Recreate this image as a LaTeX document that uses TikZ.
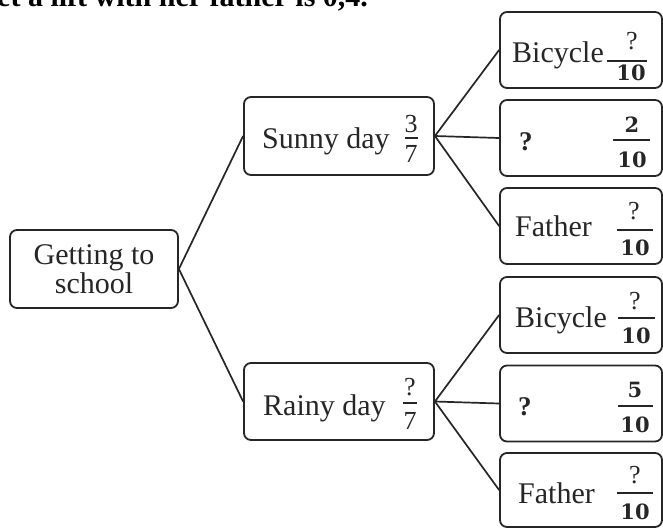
\documentclass[tikz,border=0pt]{standalone}
\usepackage{fontspec}
\setmainfont{Liberation Serif}
\newfontfamily\numfont{DejaVu Serif}
\begin{document}
\begin{tikzpicture}[x=1pt,y=-1pt,
  box/.style={draw=black!85, line width=1.8pt, rounded corners=7pt, inner sep=0pt},
  conn/.style={draw=black!85, line width=1.7pt},
  word/.style={inner sep=0pt, anchor=base west, text=black!85, font=\fontsize{30}{30}\selectfont},
  qmark/.style={inner sep=0pt, anchor=base west, text=black!85, font=\fontsize{27}{27}\selectfont\bfseries},
  fnum/.style={inner sep=0pt, text=black!85, font=\fontsize{26}{26}\selectfont},
  bnum/.style={inner sep=0pt, text=black!85, font=\fontsize{21}{21}\selectfont\numfont\bfseries},
  fbar/.style={draw=black!85, line width=2pt},
  intro/.style={inner sep=0pt, anchor=base west, text=black, font=\fontsize{30}{30}\selectfont\bfseries}]
\useasboundingbox (0,0) rectangle (663,528);
\fill[white] (0,0) rectangle (663,528);

% cropped line of text at the top
\node[intro] (introtext) at (-3,6) {et a lift with her father is 0,4.};

% boxes
\node[box, minimum width=168pt, minimum height=78pt, align=center,
      text=black!85, font=\fontsize{30}{29}\selectfont] (start) at (94,269) {Getting to\\school};
\node[box, minimum width=190pt, minimum height=78pt] (sunny) at (339,136) {};
\node[box, minimum width=190pt, minimum height=77pt] (rainy) at (339,401.5) {};
\node[box, minimum width=162pt, minimum height=76pt] (s1) at (581,50) {};
\node[box, minimum width=162pt, minimum height=76pt] (s2) at (581,138) {};
\node[box, minimum width=162pt, minimum height=76pt] (s3) at (581,226) {};
\node[box, minimum width=162pt, minimum height=76pt] (r1) at (581,315) {};
\node[box, minimum width=162pt, minimum height=76pt] (r2) at (581,403.5) {};
\node[box, minimum width=162pt, minimum height=74pt] (r3) at (581,490) {};

% connectors
\draw[conn] (start.east) -- (sunny.west);
\draw[conn] (start.east) -- (rainy.west);
\draw[conn] (sunny.east) -- (s1.west);
\draw[conn] (sunny.east) -- (s2.west);
\draw[conn] (sunny.east) -- (s3.west);
\draw[conn] (rainy.east) -- (r1.west);
\draw[conn] (rainy.east) -- (r2.west);
\draw[conn] (rainy.east) -- (r3.west);

% sunny day
\node[word] (sunnytext) at (262,148) {Sunny day};
\node[fnum] (sunnynum) at (411,124.5) {3};
\draw[fbar] (405,138) -- (418,138);
\node[fnum] (sunnyden) at (411,153.5) {7};

% rainy day
\node[word] (rainytext) at (263,415) {Rainy day};
\node[fnum] (rainynum) at (410,387.5) {?};
\draw[fbar] (403,403) -- (417,403);
\node[fnum] (rainyden) at (410,421) {7};

% sunny outcomes
\node[word] (s1text) at (512,62) {Bicycle};
\node[fnum] (s1num) at (632,41) {?};
\draw[fbar] (607,61) -- (647,61);
\node[bnum] (s1den) at (631,72.5) {10};

\node[qmark] (s2text) at (519,150) {?};
\node[bnum] (s2num) at (632,125) {2};
\draw[fbar] (613,140) -- (650,140);
\node[bnum] (s2den) at (632,160) {10};

\node[word] (s3text) at (515,236) {Father};
\node[fnum] (s3num) at (634,211.5) {?};
\draw[fbar] (617,230) -- (653,230);
\node[bnum] (s3den) at (635,247.5) {10};

% rainy outcomes
\node[word] (r1text) at (515,327) {Bicycle};
\node[fnum] (r1num) at (635,301.5) {?};
\draw[fbar] (618,318) -- (655,318);
\node[bnum] (r1den) at (636,335.5) {10};

\node[qmark] (r2text) at (518,415) {?};
\node[bnum] (r2num) at (635,389.5) {5};
\draw[fbar] (618,406) -- (653,406);
\node[bnum] (r2den) at (635,424.5) {10};

\node[word] (r3text) at (518,503) {Father};
\node[fnum] (r3num) at (635,475) {?};
\draw[fbar] (617,493) -- (653,493);
\node[bnum] (r3den) at (635,511.5) {10};
\end{tikzpicture}
\end{document}
